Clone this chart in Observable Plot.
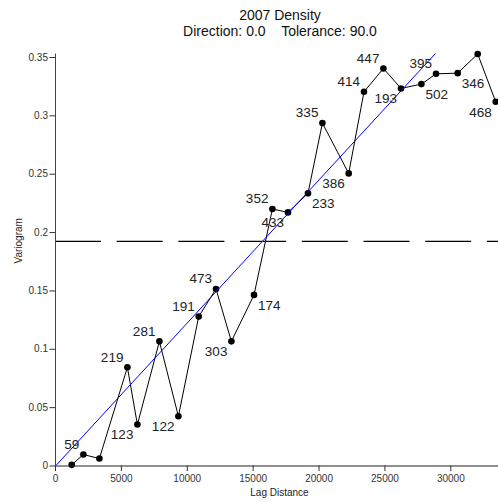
<!DOCTYPE html>
<html><head><meta charset="utf-8">
<script src="https://cdn.jsdelivr.net/npm/d3@7"></script>
<script src="https://cdn.jsdelivr.net/npm/@observablehq/plot@0.6"></script>
<style>html,body{margin:0;padding:0;background:#fff} svg{display:block}</style>
</head><body><div id="chart"></div>
<script>
const lagDistance = [1229, 2117, 3332, 5457, 6215, 7885, 9327, 10868, 12180, 13349, 15065, 16461, 17645, 19162, 20255, 22251, 23412, 24884, 26220, 27768, 28877, 30523, 32041, 33407];
const semivariance = [0.001, 0.0098, 0.0064, 0.0846, 0.0355, 0.1068, 0.0426, 0.1280, 0.1517, 0.1068, 0.1466, 0.2202, 0.2173, 0.2336, 0.2938, 0.2507, 0.3206, 0.3406, 0.3235, 0.3272, 0.3360, 0.3366, 0.3530, 0.3121];
const pairCounts = [null, 59, null, 219, 123, 281, 122, 191, 473, 303, 174, 352, 433, 233, 335, 386, 414, 447, 193, 502, 395, 346, null, 468];
const labelSide = ["", "nw", "", "nw", "sw", "nw", "sw", "nw", "nw", "sw", "se", "nw", "sw", "se", "nw", "sw", "nw", "nw", "sw", "se", "nw", "se", "", "sw"];
const sillValue = 0.1925;
const fitSlope = 1.2257e-5;
const xMax = 34075;
const xTicks = [0, 5000, 10000, 15000, 20000, 25000, 30000];
const yTicks = [0, 0.05, 0.1, 0.15, 0.2, 0.25, 0.3, 0.35];
const titleText = "2007 Density";
const subtitleText = "Direction: 0.0\u00a0\u00a0\u00a0\u00a0Tolerance: 90.0";
const xLabel = "Lag Distance";
const yLabel = "Variogram";

const data = lagDistance.map((d, i) => ({lag: d, gamma: semivariance[i], n: pairCounts[i], side: labelSide[i]}));
const fitLine = [{lag: 0, gamma: 0}, {lag: xMax, gamma: fitSlope * xMax}];
const yMax = d3.max(semivariance);
const W = 498, H = 502, mL = 55, mT = 53.5, mB = 36.5;
const off = {nw: [-4, -10, "end"], sw: [-4, 10.5, "end"], se: [4, 10.5, "start"]};
const font = "'Liberation Sans', Arial, Helvetica, sans-serif";

const chart = Plot.plot({
  width: W, height: H,
  marginLeft: mL, marginRight: 0, marginTop: mT, marginBottom: mB,
  style: {fontFamily: font, background: "#fff", color: "#222"},
  x: {domain: [0, xMax], range: [mL, mL + 449]},
  y: {domain: [0, yMax], range: [H - mB, mT]},
  marks: [
    Plot.ruleY([sillValue], {stroke: "black", strokeWidth: 1.2, strokeDasharray: "46,15.7"}),
    Plot.line(data, {x: "lag", y: "gamma", stroke: "black", strokeWidth: 1}),
    Plot.dot(data, {x: "lag", y: "gamma", r: 3.3, fill: "black", stroke: "none"}),
    Plot.line(fitLine, {x: "lag", y: "gamma", stroke: "#0000ff", strokeWidth: 1, clip: true}),
    ...["nw", "sw", "se"].map(s => Plot.text(data.filter(d => d.n != null && d.side === s), {
      x: "lag", y: "gamma", text: d => String(d.n), dx: off[s][0], dy: off[s][1],
      textAnchor: off[s][2], lineAnchor: "middle", fontSize: 13.5, fill: "#222"
    })),
    Plot.ruleY([0], {stroke: "#222", strokeWidth: 1}),
    Plot.ruleX([0], {stroke: "#444", strokeWidth: 1}),
    Plot.axisX({ticks: xTicks, tickFormat: d => String(d), tickSize: 5.5, tickPadding: 3, fontSize: 10, label: null, stroke: "#333", fill: "#333"}),
    Plot.axisY({ticks: yTicks, tickFormat: d => String(d), tickSize: 5.5, tickPadding: 2, fontSize: 10, label: null, stroke: "#333", fill: "#333"}),
    Plot.text([xLabel], {frameAnchor: "bottom", dx: 2.5, dy: 27, lineAnchor: "middle", fontSize: 10, fill: "#222"}),
    Plot.text([yLabel], {frameAnchor: "left", dx: -37, dy: 3.5, rotate: -90, lineAnchor: "middle", fontSize: 10, fill: "#222"}),
    Plot.text([titleText], {frameAnchor: "top", dx: 3, dy: -34, lineAnchor: "bottom", fontSize: 14, fill: "#111"}),
    Plot.text([subtitleText], {frameAnchor: "top", dx: 3, dy: -18, lineAnchor: "bottom", fontSize: 14, fill: "#111"})
  ]
});
document.getElementById("chart").appendChild(chart);
</script>
</body></html>
